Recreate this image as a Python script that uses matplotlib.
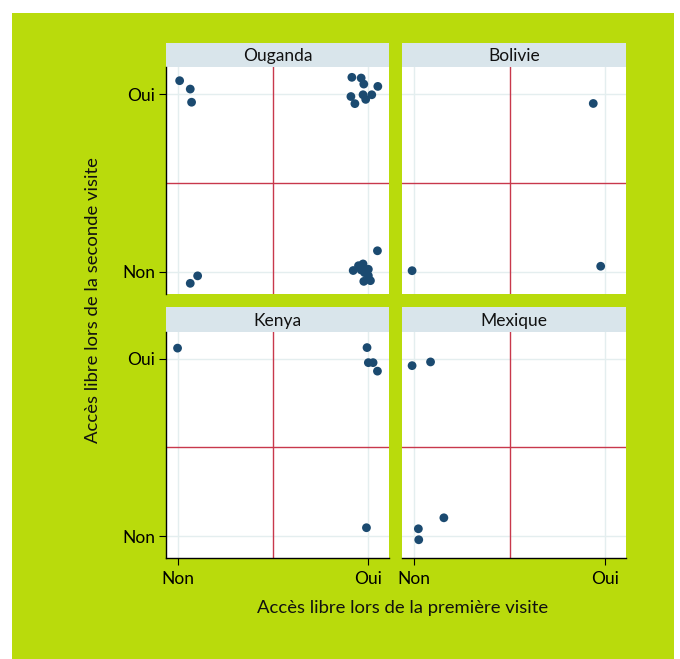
import matplotlib
matplotlib.use("Agg")
import matplotlib.pyplot as plt
from matplotlib.patches import Rectangle

plt.rcParams['font.family'] = ['Lato', 'DejaVu Sans']

# Jittered responses (0 = Non, 1 = Oui) for the first and second visit
countries = ["Ouganda", "Bolivie", "Kenya", "Mexique"]

ouganda_first = [0.007, 0.063, 0.070, 0.916, 0.965, 0.979, 1.053, 0.911, 0.975, 0.989, 1.021, 0.932,
                 0.102, 0.063, 1.051, 0.923, 0.951, 0.975, 1.003, 0.965, 0.983, 1.003, 1.014, 0.979]
ouganda_second = [1.075, 1.028, 0.954, 1.094, 1.090, 1.056, 1.043, 0.986, 0.996, 0.970, 0.996, 0.946,
                  -0.022, -0.064, 0.119, 0.008, 0.035, 0.045, 0.015, 0.011, -0.004, -0.021, -0.049, -0.053]

bolivie_first = [0.940, -0.012, 0.979]
bolivie_second = [0.947, 0.007, 0.032]

kenya_first = [-0.004, 0.996, 1.003, 1.028, 1.051, 0.993]
kenya_second = [1.061, 1.064, 0.979, 0.979, 0.931, 0.047]

mexique_first = [-0.012, 0.085, 0.155, 0.021, 0.023]
mexique_second = [0.962, 0.983, 0.103, 0.041, -0.021]

tick_values = [0, 1]
tick_labels = ["Non", "Oui"]

first_series = [ouganda_first, bolivie_first, kenya_first, mexique_first]
second_series = [ouganda_second, bolivie_second, kenya_second, mexique_second]

W, H = 680, 659
GREEN = "#b9db0c"
STRIP = "#d9e5eb"
DOT = "#1b4a70"
REF = "#c8384c"
GRID = "#e4eeef"

fig = plt.figure(figsize=(W / 100, H / 100), dpi=100)
fig.patch.set_facecolor("white")

def px_box(x0, y0, x1, y1):
    """Convert a pixel box (top-left origin) to figure fractions."""
    return [x0 / W, 1 - y1 / H, (x1 - x0) / W, (y1 - y0) / H]

# green backdrop
bg = fig.add_axes([0, 0, 1, 1], zorder=-10)
bg.axis("off")
bg.set_xlim(0, W)
bg.set_ylim(H, 0)
bg.add_patch(Rectangle((12, 13), 662, 646, facecolor=GREEN, edgecolor="none"))

cols = [(166, 389), (402, 626)]
rows = [((43, 67), (67, 294)), ((307, 332), (332, 558))]

for i, name in enumerate(countries):
    r, c = divmod(i, 2)
    x0, x1 = cols[c]
    (s0, s1), (p0, p1) = rows[r]

    strip = fig.add_axes(px_box(x0, s0, x1, s1))
    strip.set_facecolor(STRIP)
    strip.set_xticks([])
    strip.set_yticks([])
    for sp in strip.spines.values():
        sp.set_visible(False)
    strip.text(0.5, 0.45, name, ha="center", va="center", fontsize=12.5, color="#111111")

    ax = fig.add_axes(px_box(x0, p0, x1, p1))
    ax.set_facecolor("white")
    ax.set_xlim(-0.065, 1.112)
    ax.set_ylim(-0.124, 1.152)
    for v in tick_values:
        ax.axvline(v, color=GRID, lw=1.0, zorder=0)
        ax.axhline(v, color=GRID, lw=1.0, zorder=0)
    ax.axvline(0.5, color=REF, lw=1.0, zorder=1)
    ax.axhline(0.5, color=REF, lw=1.0, zorder=1)
    ax.scatter(first_series[i], second_series[i], s=40, color=DOT, edgecolors="none", zorder=3)

    for sp in ax.spines.values():
        sp.set_visible(False)
    ax.set_xticks(tick_values)
    ax.set_yticks(tick_values)
    if c == 0:
        ax.spines["left"].set_visible(True)
        ax.spines["left"].set_color("black")
        ax.spines["left"].set_linewidth(1.0)
        ax.set_yticklabels(tick_labels, fontsize=12.5)
        ax.tick_params(axis="y", length=5, width=0.8, pad=3, direction="out")
    else:
        ax.tick_params(axis="y", length=0, labelleft=False)
    if r == 1:
        ax.spines["bottom"].set_visible(True)
        ax.spines["bottom"].set_color("black")
        ax.spines["bottom"].set_linewidth(1.0)
        ax.set_xticklabels(tick_labels, fontsize=12.5)
        ax.tick_params(axis="x", length=5, width=0.8, pad=4, direction="out")
    else:
        ax.tick_params(axis="x", length=0, labelbottom=False)

fig.text(403 / W, 1 - 608 / H, "Accès libre lors de la première visite",
         ha="center", va="center", fontsize=13.3, color="#111111")
fig.text(93 / W, 1 - 300 / H, "Accès libre lors de la seconde visite",
         ha="center", va="center", rotation=90, fontsize=13.3, color="#111111")

fig.savefig("out.png", dpi=100)
